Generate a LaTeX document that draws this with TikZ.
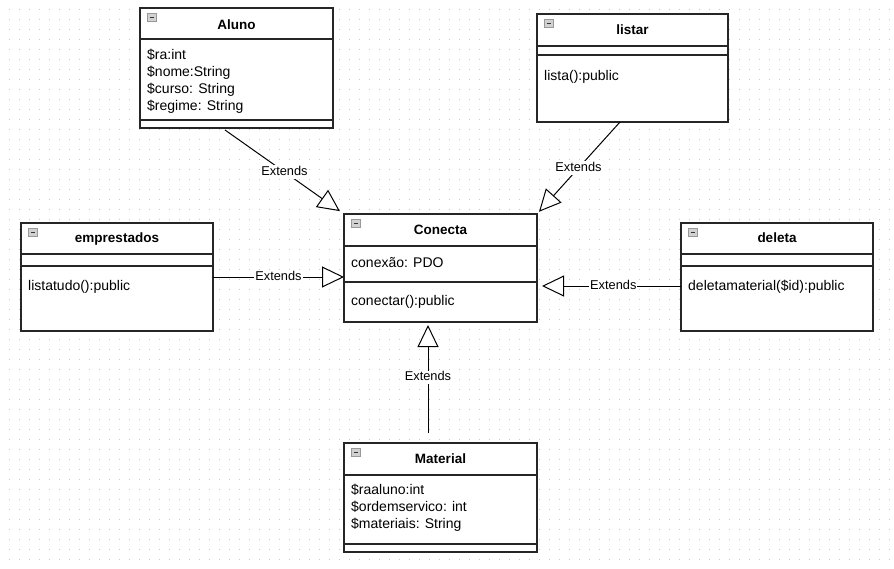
\documentclass[tikz,border=0pt]{standalone}
\usepackage{fontspec}
\setmainfont{Liberation Sans}
\usetikzlibrary{arrows.meta,calc}

% class frame: name, left, top, right, bottom
\newcommand\umlframe[5]{%
  \node[classbox, minimum width={#4-#2}, minimum height={#5-#3}] (#1) at (#2,#3) {};
  \filldraw[iconbox] (#2+7.5,#3+5.5) rectangle (#2+16,#3+13);
  \draw[icondash] (#2+9.5,#3+9.3) -- (#2+14,#3+9.3);
}
% horizontal compartment line: left, right, y
\newcommand\umlsep[3]{\draw[seprule] (#1,#3) -- (#2,#3);}

\begin{document}
\begin{tikzpicture}[x=1pt,y=-1pt,
  classbox/.style={draw=black!85, line width=1.3pt, fill=white, inner sep=0pt,
    outer sep=0pt, anchor=north west},
  seprule/.style={draw=black!85, line width=1.3pt},
  iconbox/.style={fill=black!18, draw=black!40, line width=0.7pt},
  icondash/.style={draw=black!80, line width=1.4pt},
  ttl/.style={font=\fontsize{13.5}{15}\selectfont\bfseries, inner sep=0pt,
    text height=9.5pt, text depth=3pt},
  txt/.style={font=\fontsize{14}{16}\selectfont, anchor=west, inner sep=0pt,
    text height=10pt, text depth=3pt},
  ext/.style={draw=black, line width=1pt,
    -{Triangle[length=22pt,width=21pt,fill=white,line width=1pt]}},
  lbl/.style={font=\fontsize{12.8}{14}\selectfont, fill=white, inner sep=1pt,
    text height=9pt, text depth=2.5pt}
]
% canvas and dotted grid
\fill[white] (0,0) rectangle (894,568);
\useasboundingbox (0,0) rectangle (894,568);
\foreach \gx in {9,19,...,889}
  \foreach \gy in {9,19,...,559}
    \fill[black!22] (\gx,\gy) rectangle ++(0.9,0.9);

% Aluno
\umlframe{aluno}{140}{8}{333}{128}
\umlsep{140}{333}{39}
\umlsep{140}{333}{120}
\node[ttl] (aluno-t) at (236.5,26) {Aluno};
\node[txt] (aluno-a1) at (147,56) {\$ra:int};
\node[txt] (aluno-a2) at (147,73) {\$nome:String};
\node[txt] (aluno-a3) at (147,90) {\$curso: String};
\node[txt] (aluno-a4) at (147,107) {\$regime: String};

% listar
\umlframe{listar}{537}{14}{728}{122}
\umlsep{537}{728}{46}
\umlsep{537}{728}{55}
\node[ttl] (listar-t) at (632.5,31) {listar};
\node[txt] (listar-m1) at (544,77) {lista():public};

% empresados
\umlframe{emp}{21}{223}{213}{331}
\umlsep{21}{213}{254}
\umlsep{21}{213}{266}
\node[ttl] (emp-t) at (117,239) {emprestados};
\node[txt] (emp-m1) at (28,287) {listatudo():public};

% Conecta
\umlframe{conecta}{344}{214}{537}{322}
\umlsep{344}{537}{246}
\umlsep{344}{537}{282}
\node[ttl] (conecta-t) at (440.5,231) {Conecta};
\node[txt] (conecta-a1) at (351,264) {conexão: PDO};
\node[txt] (conecta-m1) at (351,302) {conectar():public};

% deleta
\umlframe{deleta}{681}{223}{873}{331}
\umlsep{681}{873}{254}
\umlsep{681}{873}{266}
\node[ttl] (deleta-t) at (777,239) {deleta};
\node[txt] (deleta-m1) at (688,287) {deletamaterial(\$id):public};

% Material
\umlframe{material}{344}{443}{537}{552}
\umlsep{344}{537}{475}
\umlsep{344}{537}{544}
\node[ttl] (material-t) at (440.5,460) {Material};
\node[txt] (material-a1) at (351,491) {\$raaluno:int};
\node[txt] (material-a2) at (351,508) {\$ordemservico: int};
\node[txt] (material-a3) at (351,525) {\$materiais: String};

% inheritance connectors
\coordinate (aluno-out) at ($(aluno.south west)+(85,2)$);
\draw[ext, shorten >=5pt] (aluno-out) -- node[lbl] (ext1) {Extends} (conecta.north west);

\coordinate (listar-out) at ($(listar.south west)+(83,0)$);
\draw[ext, shorten >=3pt] (listar-out) -- node[lbl] (ext2) {Extends} (conecta.north east);

\draw[ext] (emp.east) -- node[lbl] (ext3) {Extends} (emp.east -| conecta.west);

\coordinate (deleta-out) at ($(deleta.west)+(0,9)$);
\draw[ext, shorten >=5pt] (deleta-out) -- node[lbl, pos=0.47] (ext4) {Extends} (deleta-out -| conecta.east);

\coordinate (material-out) at ($(material.north west)+(84,-10)$);
\draw[ext, shorten >=3pt] (material-out) -- node[lbl] (ext5) {Extends} (material-out |- conecta.south);
\end{tikzpicture}
\end{document}
